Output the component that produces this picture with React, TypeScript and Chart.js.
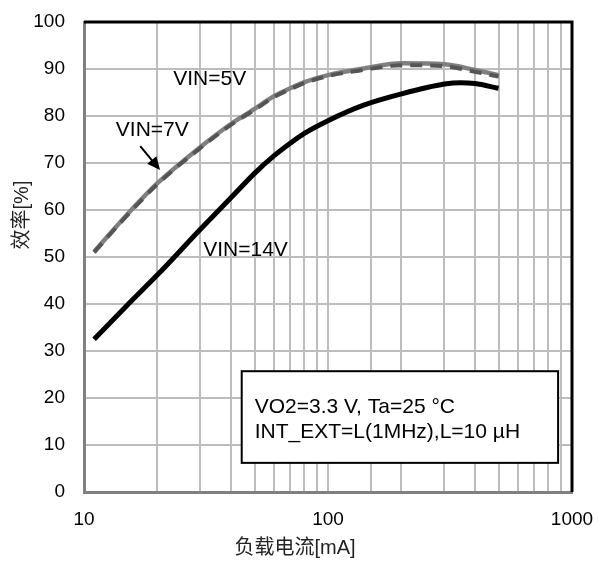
import React, { useEffect, useRef } from "react";
import { Chart, registerables } from "chart.js";

Chart.register(...registerables);

const loadCurrent = [11, 15, 20, 30, 40, 50, 60, 70, 80, 100, 140, 200, 300, 400, 500];
const vin5 = [51.1, 59.0, 65.7, 73.4, 78.3, 81.5, 84.2, 85.9, 87.2, 88.7, 90.1, 91.2, 91.0, 89.8, 88.7];
const vin7 = [51.0, 58.8, 65.5, 73.2, 78.1, 81.3, 84.0, 85.7, 87.0, 88.5, 89.8, 90.8, 90.6, 89.4, 88.4];
const loadCurrent14 = [11, 15, 20, 30, 40, 50, 60, 70, 80, 100, 140, 200, 300, 350, 400, 500];
const vin14 = [32.5, 39.7, 46.2, 55.9, 62.6, 67.8, 71.5, 74.2, 76.3, 79.0, 82.3, 84.7, 86.8, 87.1, 86.9, 85.9];

const xTickLabels = [10, 100, 1000];
const yTicks = [0, 10, 20, 30, 40, 50, 60, 70, 80, 90, 100];

const seriesLabels = [
  { text: "VIN=5V", x: 23.2, y: 87.8 },
  { text: "VIN=7V", x: 13.5, y: 77.0 },
  { text: "VIN=14V", x: 30.8, y: 51.5 },
];
const arrow7 = { x1: 17.0, y1: 73.6, x2: 20.5, y2: 68.5 };
const noteBox = { x1: 44.3, x2: 877, y1: 25.7, y2: 6.2 };
const noteLines = ["VO2=3.3 V, Ta=25 °C", "INT_EXT=L(1MHz),L=10 µH"];

const xTitle = "负载电流[mA]";
const yTitle = "效率[%]";

const FONT = "'Liberation Sans', Arial, 'Noto Sans CJK SC', sans-serif";

export default function App() {
  const ref = useRef<HTMLCanvasElement | null>(null);

  useEffect(() => {
    const canvas = ref.current;
    if (!canvas) return;

    const overlay = {
      id: "overlay",
      afterDatasetsDraw(chart: any) {
        const { ctx, chartArea, scales } = chart;
        const xs = scales.x;
        const ys = scales.y;
        ctx.save();
        ctx.strokeStyle = "#000";
        ctx.lineWidth = 3;
        ctx.beginPath();
        ctx.moveTo(chartArea.left, chartArea.top);
        ctx.lineTo(chartArea.right, chartArea.top);
        ctx.lineTo(chartArea.right, chartArea.bottom);
        ctx.stroke();

        ctx.fillStyle = "#000";
        ctx.font = `21px ${FONT}`;
        ctx.textAlign = "left";
        ctx.textBaseline = "middle";
        for (const l of seriesLabels) {
          ctx.fillText(l.text, xs.getPixelForValue(l.x), ys.getPixelForValue(l.y));
        }

        const ax1 = xs.getPixelForValue(arrow7.x1);
        const ay1 = ys.getPixelForValue(arrow7.y1);
        const ax2 = xs.getPixelForValue(arrow7.x2);
        const ay2 = ys.getPixelForValue(arrow7.y2);
        const ang = Math.atan2(ay2 - ay1, ax2 - ax1);
        const hl = 13;
        const hw = 6;
        ctx.strokeStyle = "#000";
        ctx.lineWidth = 2;
        ctx.beginPath();
        ctx.moveTo(ax1, ay1);
        ctx.lineTo(ax2 - Math.cos(ang) * hl * 0.8, ay2 - Math.sin(ang) * hl * 0.8);
        ctx.stroke();
        ctx.beginPath();
        ctx.moveTo(ax2, ay2);
        ctx.lineTo(
          ax2 - Math.cos(ang) * hl + Math.sin(ang) * hw,
          ay2 - Math.sin(ang) * hl - Math.cos(ang) * hw
        );
        ctx.lineTo(
          ax2 - Math.cos(ang) * hl - Math.sin(ang) * hw,
          ay2 - Math.sin(ang) * hl + Math.cos(ang) * hw
        );
        ctx.closePath();
        ctx.fill();

        const bx1 = xs.getPixelForValue(noteBox.x1);
        const bx2 = xs.getPixelForValue(noteBox.x2);
        const by1 = ys.getPixelForValue(noteBox.y1);
        const by2 = ys.getPixelForValue(noteBox.y2);
        ctx.fillStyle = "#fff";
        ctx.fillRect(bx1, by1, bx2 - bx1, by2 - by1);
        ctx.strokeStyle = "#000";
        ctx.lineWidth = 2;
        ctx.strokeRect(bx1, by1, bx2 - bx1, by2 - by1);
        ctx.fillStyle = "#000";
        ctx.font = `21px ${FONT}`;
        ctx.textAlign = "left";
        ctx.textBaseline = "middle";
        noteLines.forEach((t, i) => {
          ctx.fillText(t, bx1 + 13, by1 + 36 + i * 25);
        });

        ctx.fillStyle = "#222";
        ctx.font = `20px ${FONT}`;
        ctx.textAlign = "center";
        ctx.textBaseline = "middle";
        ctx.fillText(xTitle, 295, 548);
        ctx.save();
        ctx.translate(22, 215);
        ctx.rotate(-Math.PI / 2);
        ctx.fillText(yTitle, 0, 0);
        ctx.restore();

        ctx.restore();
      },
    };

    const chart = new Chart(canvas, {
      type: "line",
      data: {
        datasets: [
          {
            label: "VIN=7V",
            data: loadCurrent.map((x, i) => ({ x, y: vin7[i] })),
            borderColor: "#555555",
            borderWidth: 4,
            borderDash: [12, 8],
            pointRadius: 0,
            cubicInterpolationMode: "monotone",
            order: 0,
          },
          {
            label: "VIN=5V",
            data: loadCurrent.map((x, i) => ({ x, y: vin5[i] })),
            borderColor: "#808080",
            borderWidth: 4.5,
            pointRadius: 0,
            cubicInterpolationMode: "monotone",
            order: 1,
          },
          {
            label: "VIN=14V",
            data: loadCurrent14.map((x, i) => ({ x, y: vin14[i] })),
            borderColor: "#000000",
            borderWidth: 5,
            pointRadius: 0,
            cubicInterpolationMode: "monotone",
            order: 2,
          },
        ],
      },
      options: {
        responsive: false,
        animation: false,
        maintainAspectRatio: false,
        layout: { padding: { top: 22, right: 27, left: 0, bottom: 0 } },
        plugins: {
          legend: { display: false },
          tooltip: { enabled: false },
          title: { display: false },
        },
        scales: {
          x: {
            type: "logarithmic",
            min: 10,
            max: 1000,
            afterFit(scale: any) {
              scale.height = 74;
              scale.paddingLeft = 0;
              scale.paddingRight = 0;
            },
            grid: {
              color: "#bdbdbd",
              lineWidth: 2,
              drawTicks: false,
            },
            border: { color: "#808080", width: 3 },
            ticks: {
              autoSkip: false,
              maxRotation: 0,
              padding: 16,
              color: "#000",
              font: { family: FONT, size: 19 },
              callback: (value: any) => {
                const v = Number(value);
                return xTickLabels.some((t) => Math.abs(t - v) < 1e-6) ? String(v) : "";
              },
            },
          },
          y: {
            type: "linear",
            min: 0,
            max: 100,
            afterFit(scale: any) {
              scale.width = 84;
              scale.paddingTop = 0;
              scale.paddingBottom = 0;
            },
            afterBuildTicks(scale: any) {
              scale.ticks = yTicks.map((v) => ({ value: v }));
            },
            grid: {
              color: "#bdbdbd",
              lineWidth: 2,
              drawTicks: false,
            },
            border: { color: "#808080", width: 3 },
            ticks: {
              padding: 19,
              color: "#000",
              font: { family: FONT, size: 19 },
            },
          },
        },
      },
      plugins: [overlay],
    });

    return () => chart.destroy();
  }, []);

  return (
    <div style={{ position: "fixed", left: 0, top: 0, width: 599, height: 566, background: "#fff" }}>
      <canvas ref={ref} width={599} height={566} />
    </div>
  );
}
